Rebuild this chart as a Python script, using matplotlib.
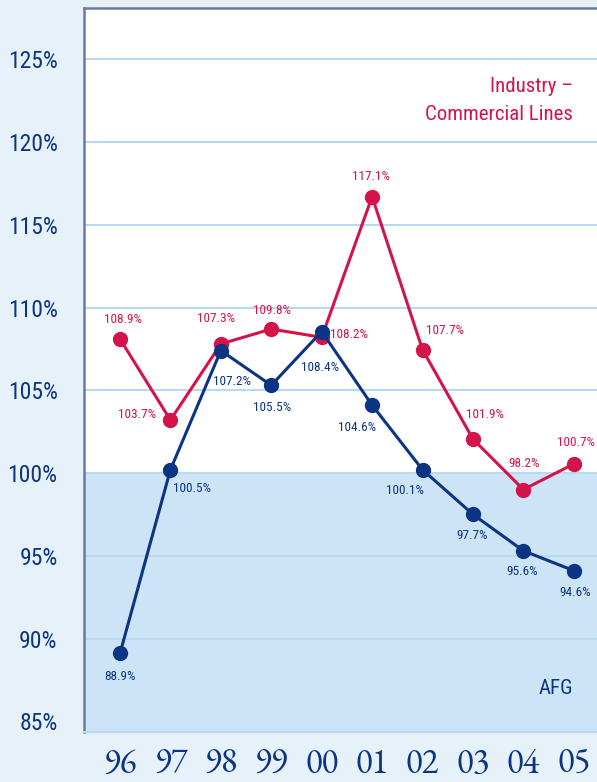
import matplotlib
matplotlib.use('Agg')
import matplotlib.pyplot as plt
import numpy as np

years = ['96', '97', '98', '99', '00', '01', '02', '03', '04', '05']

# values as drawn (point heights) and the printed labels
industry = [108.1, 103.2, 107.8, 108.7, 108.2, 116.7, 107.45, 102.05, 99.0, 100.55]
industry_lbl = ['108.9%', '103.7%', '107.3%', '109.8%', '108.2%', '117.1%',
                '107.7%', '101.9%', '98.2%', '100.7%']
afg = [89.1, 100.2, 107.4, 105.3, 108.55, 104.1, 100.2, 97.5, 95.3, 94.1]
afg_lbl = ['88.9%', '100.5%', '107.2%', '105.5%', '108.4%', '104.6%',
           '100.1%', '97.7%', '95.6%', '94.6%']
yticks = [85, 90, 95, 100, 105, 110, 115, 120, 125]

# label offsets in pixels (dx, dy)
ind_off = [(3, 19), (-33, 6), (-5, 25), (1, 19), (27, 3), (-1, 20),
           (22, 19), (12, 25), (1, 26), (2, 21)]
afg_off = [(0, -23), (22, -19), (11, -31), (1, -22), (-2, -36), (-15, -22),
           (-18, -21), (-1, -21), (-1, -21), (1, -22)]

RED = '#d5134b'
NAVY = '#0b3583'
GRID = '#b9d9f1'
narrow = ['Roboto Condensed', 'Archivo Narrow', 'PT Sans Narrow',
          'Liberation Sans Narrow', 'DejaVu Sans']
oldstyle = ['EB Garamond', 'Alegreya', 'Liberation Serif']

fig = plt.figure(figsize=(5.97, 7.82), dpi=100, facecolor='#e6f1fa')
ax = fig.add_axes([84/597, 1 - 732/782, 1 - 84/597, (732 - 8)/782])
ax.set_facecolor('white')

ylo, yhi = 84.35, 128.1
ax.set_ylim(ylo, yhi)
ax.set_xlim(-0.714, 9.46)
ax.axhspan(ylo, 100, color='#cde3f6', zorder=0, lw=0)
for v in yticks[1:]:
    ax.axhline(v, color=GRID, lw=1.5, zorder=1)

x = np.arange(len(years))
ax.plot(x, industry, color=RED, lw=2.2, marker='o', ms=10, zorder=3)
ax.plot(x, afg, color=NAVY, lw=2.2, marker='o', ms=10, zorder=4)

for i in range(len(years)):
    dx, dy = ind_off[i]
    ax.annotate(industry_lbl[i], (x[i], industry[i]), xytext=(dx*0.72, dy*0.72),
                textcoords='offset points', ha='center', va='center',
                color=RED, fontsize=9.5, family=narrow, zorder=5)
    dx, dy = afg_off[i]
    ax.annotate(afg_lbl[i], (x[i], afg[i]), xytext=(dx*0.72, dy*0.72),
                textcoords='offset points', ha='center', va='center',
                color=NAVY, fontsize=9.5, family=narrow, zorder=5)

ax.set_yticks(yticks)
ax.set_yticklabels(['%d%%' % v for v in yticks], family=narrow, fontsize=17, color=NAVY)
ax.set_xticks(x)
ax.set_xticklabels(years, family=oldstyle, fontsize=25, color=NAVY)
ax.tick_params(axis='y', length=0, pad=19)
ax.tick_params(axis='x', length=0, pad=11)

for s in ['left', 'top']:
    ax.spines[s].set_color('#6b78ab')
    ax.spines[s].set_linewidth(1.8)
ax.spines['right'].set_visible(False)
ax.spines['bottom'].set_color(GRID)
ax.spines['bottom'].set_linewidth(1.5)

ax.text(573/597, 1 - 87/782, 'Industry \u2013', transform=fig.transFigure,
        ha='right', va='center', color=RED, fontsize=15, family=narrow)
ax.text(573/597, 1 - 115/782, 'Commercial Lines', transform=fig.transFigure,
        ha='right', va='center', color=RED, fontsize=15, family=narrow)
ax.text(573/597, 1 - 688/782, 'AFG', transform=fig.transFigure,
        ha='right', va='center', color=NAVY, fontsize=15, family=narrow)

plt.savefig('out.png', dpi=100, facecolor=fig.get_facecolor())
